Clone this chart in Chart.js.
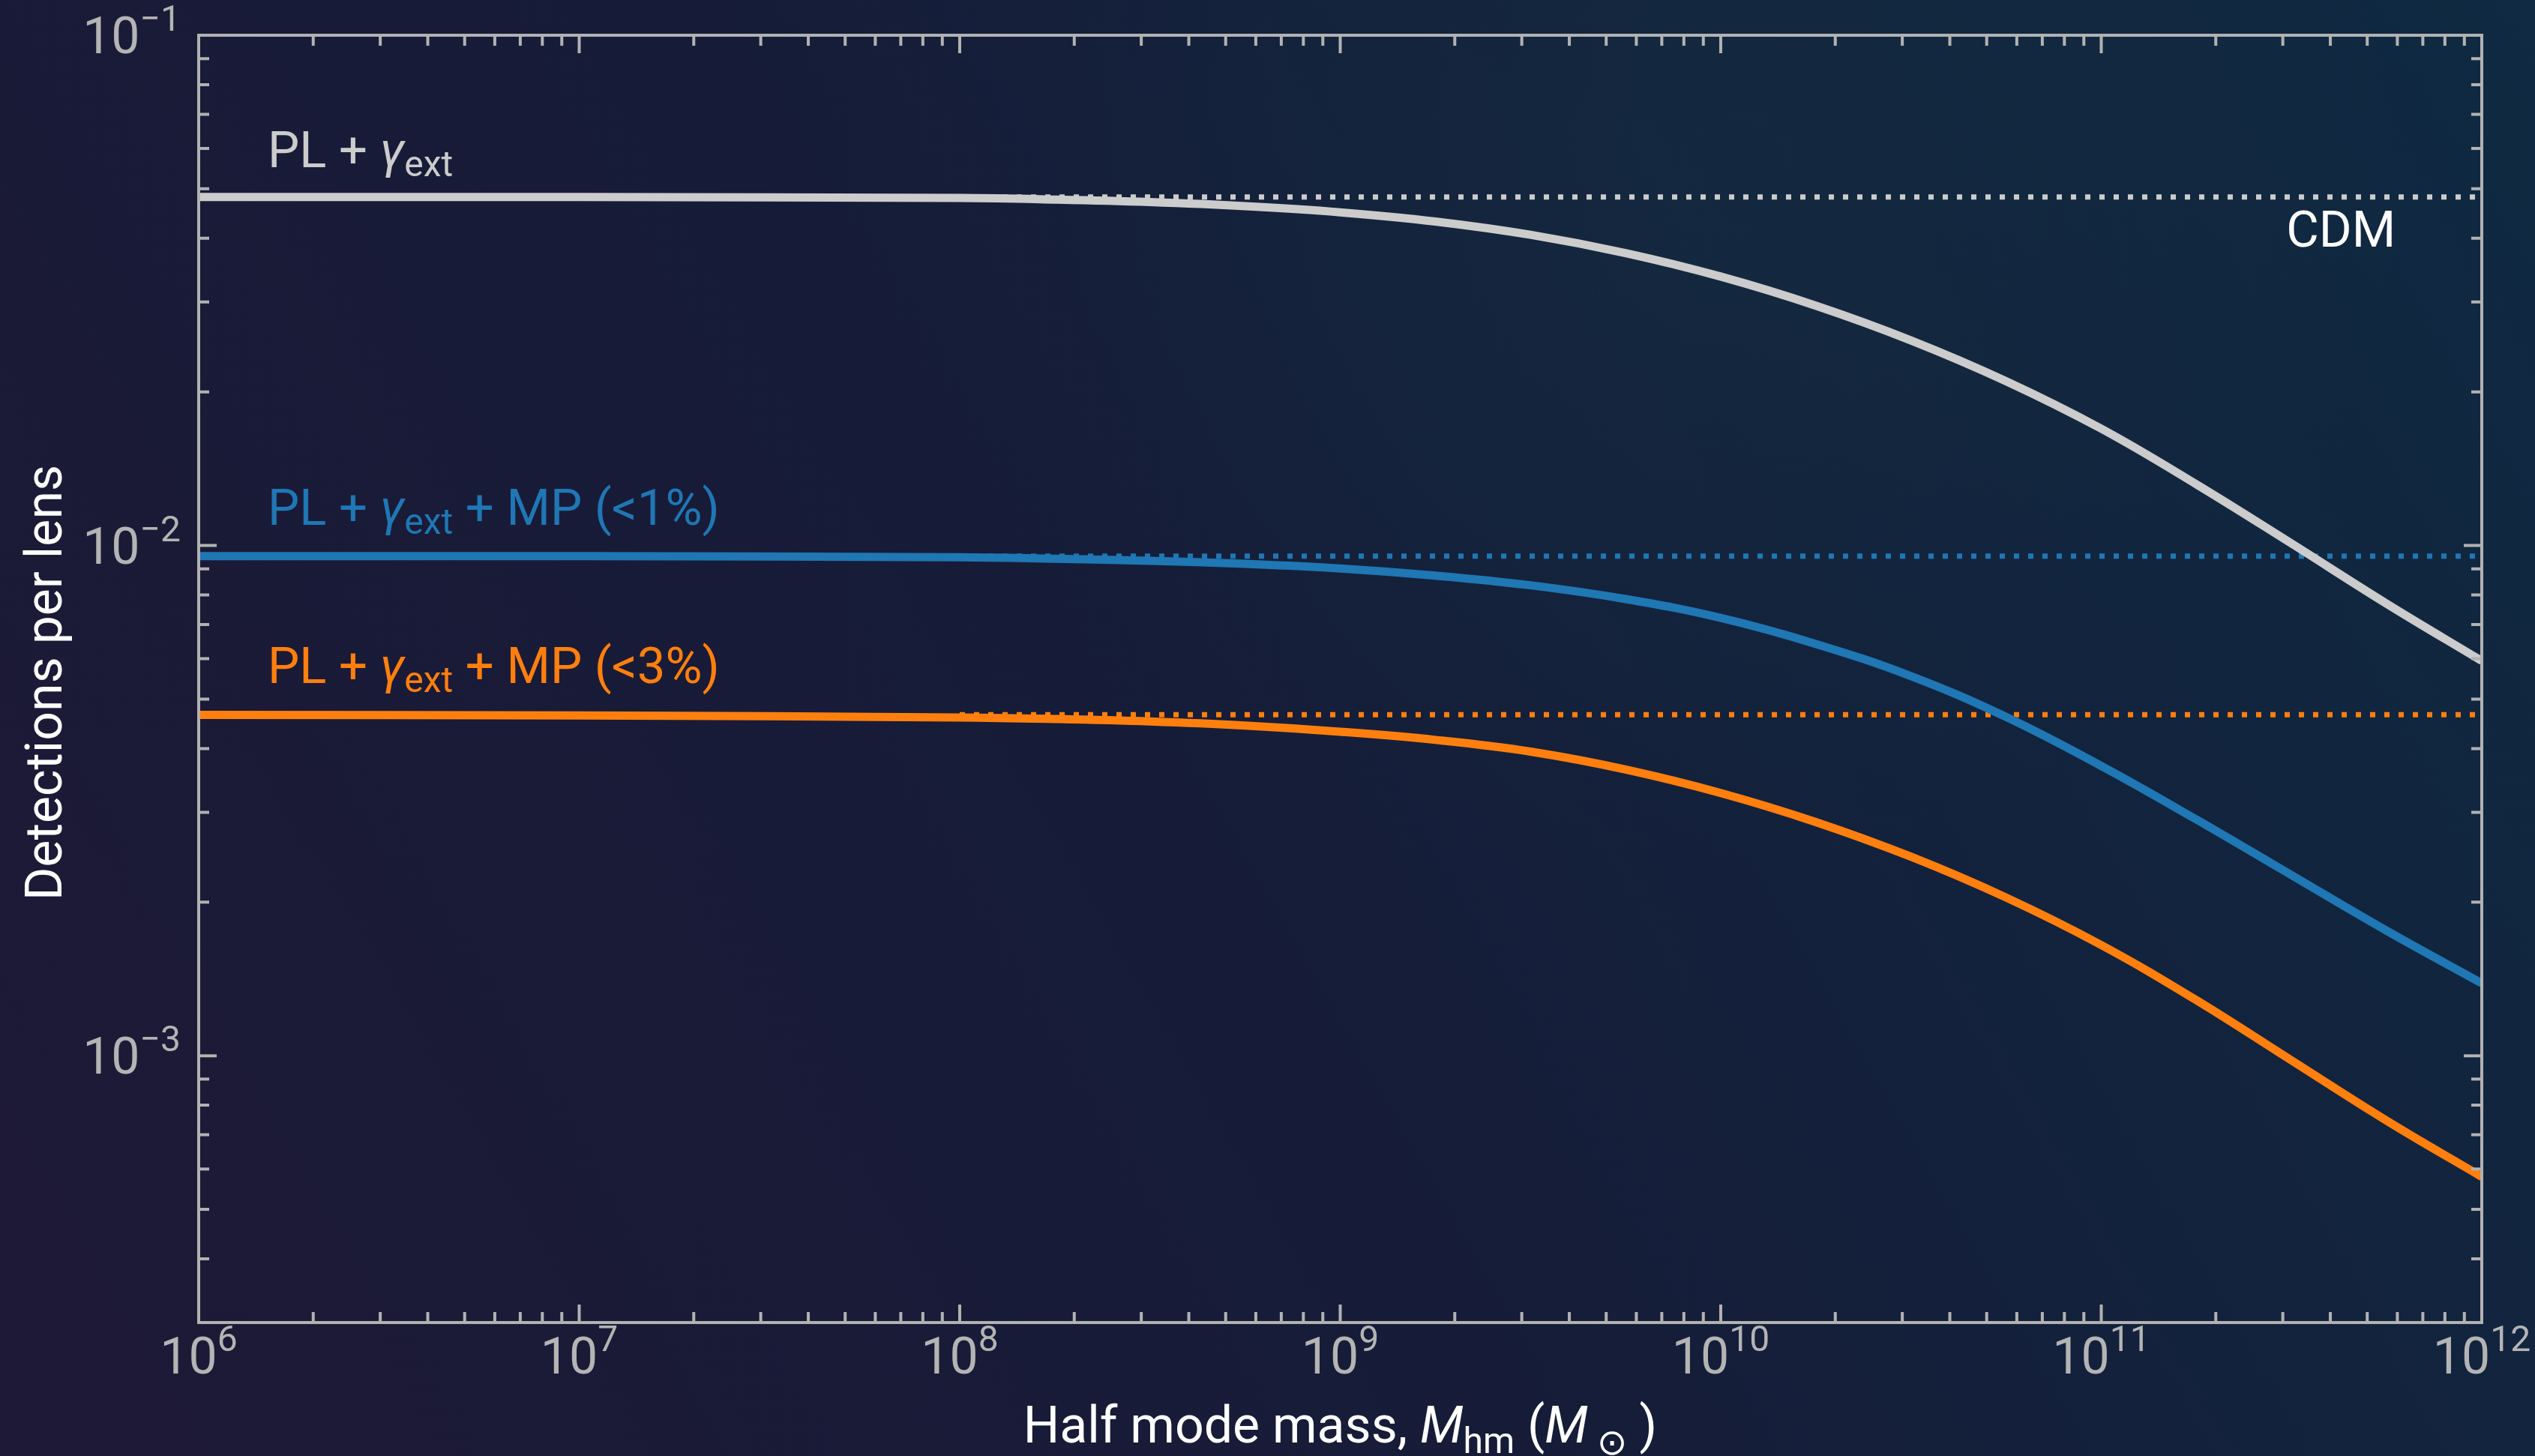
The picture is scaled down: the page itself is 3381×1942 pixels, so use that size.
<!DOCTYPE html>
<html><head><meta charset="utf-8">
<script src="https://cdn.jsdelivr.net/npm/chart.js@4.4.1/dist/chart.umd.min.js"></script>
<style>html,body{margin:0;padding:0;background:#151d38;overflow:hidden}canvas{display:block}</style>
</head><body>
<canvas id="c" width="3381" height="1942"></canvas>
<script>
// ---- data ----
const logMass = [6, 7, 8, 8.25, 8.5, 8.75, 9, 9.25, 9.5, 9.75, 10, 10.25, 10.5, 10.75, 11, 11.25, 11.5, 11.75, 12];
const mass = logMass.map(e => Math.pow(10, e));
const detPL  = [0.04819, 0.04819, 0.04797, 0.04764, 0.04710, 0.04624, 0.04498, 0.04315, 0.04064, 0.03741, 0.03365, 0.02951, 0.02523, 0.02099, 0.01694, 0.01318, 0.01009, 0.00769, 0.00594];
const detMP1 = [0.009528, 0.009528, 0.009484, 0.009419, 0.009333, 0.009204, 0.009016, 0.008730, 0.008356, 0.007852, 0.007211, 0.006412, 0.005546, 0.004613, 0.003698, 0.002904, 0.002259, 0.001758, 0.001387];
const detMP3 = [0.004656, 0.004645, 0.004603, 0.004571, 0.004519, 0.004436, 0.004315, 0.004159, 0.003945, 0.003639, 0.003273, 0.002871, 0.002455, 0.002042, 0.001648, 0.001285, 0.000979, 0.000746, 0.000579];
const cdmRange = [1e8, 1e12];
const cdmPL = 0.0482, cdmMP1 = 0.00953, cdmMP3 = 0.00466;
const xTickExps = [6, 7, 8, 9, 10, 11, 12];
const yTickExps = [-3, -2, -1];
const xMin = 1e6, xMax = 1e12, yMin = 3e-4, yMax = 0.1;

const C_WHITE = '#cccccc', C_BLUE = '#1f77b4', C_ORANGE = '#ff7f0e';
const AXIS = '#b2b2b2', TICKTXT = '#b4b4b4';
const FONT = 'Roboto, "Noto Sans", sans-serif';

function pts(xs, ys){ return xs.map((x,i)=>({x:x, y:ys[i]})); }

const solid = (data, color) => ({data, borderColor: color, borderWidth: 11, pointRadius: 0, fill: false,
  tension: 0.4, borderCapStyle: 'butt', showLine: true});
const dotted = (y, color) => ({data: pts(cdmRange, [y, y]), borderColor: color, borderWidth: 7, pointRadius: 0,
  fill: false, borderDash: [7, 12], borderCapStyle: 'butt', showLine: true});

function runWidth(ctx, runs){
  let w = 0;
  for (const r of runs){ ctx.font = (r.italic?'italic ':'') + r.size + 'px ' + FONT; w += ctx.measureText(r.t).width; }
  return w;
}
function drawRuns(ctx, runs, x, y, align, color){
  const w = runWidth(ctx, runs);
  let cx = align === 'center' ? x - w/2 : align === 'right' ? x - w : x;
  ctx.fillStyle = color; ctx.textBaseline = 'alphabetic'; ctx.textAlign = 'left';
  for (const r of runs){
    ctx.font = (r.italic?'italic ':'') + r.size + 'px ' + FONT;
    ctx.fillText(r.t, cx, y + (r.dy||0));
    cx += ctx.measureText(r.t).width;
  }
}
function powRuns(exp){
  return [{t:'10', size:68}, {t: exp < 0 ? '\u2212' + (-exp) : String(exp), size:48, dy:-30}];
}

const bgPlugin = {
  id: 'bg',
  beforeDraw(chart){
    const ctx = chart.ctx, W = chart.width, H = chart.height;
    ctx.save();
    const g = ctx.createLinearGradient(0, H, W, 0);
    g.addColorStop(0, '#1e1936');
    g.addColorStop(0.45, '#161c38');
    g.addColorStop(1, '#0f2a42');
    ctx.fillStyle = g; ctx.fillRect(0, 0, W, H);
    const r = ctx.createRadialGradient(2300, 250, 50, 2300, 250, 900);
    r.addColorStop(0, 'rgba(22,50,66,0.35)');
    r.addColorStop(1, 'rgba(22,50,66,0)');
    ctx.fillStyle = r; ctx.fillRect(0, 0, W, H);
    ctx.restore();
  }
};

const framePlugin = {
  id: 'frame',
  afterDatasetsDraw(chart){
    const ctx = chart.ctx, a = chart.chartArea, xs = chart.scales.x, ys = chart.scales.y;
    ctx.save();
    ctx.strokeStyle = AXIS; ctx.lineWidth = 4; ctx.lineCap = 'butt';
    ctx.strokeRect(a.left, a.top, a.right - a.left, a.bottom - a.top);
    for (let n = 6; n <= 12; n++){
      for (let k = 1; k <= 9; k++){
        const v = k * Math.pow(10, n);
        if (v < xMin*0.999 || v > xMax*1.001) continue;
        const p = xs.getPixelForValue(v), L = k === 1 ? 24 : 14;
        ctx.beginPath();
        ctx.moveTo(p, a.bottom); ctx.lineTo(p, a.bottom - L);
        ctx.moveTo(p, a.top); ctx.lineTo(p, a.top + L);
        ctx.stroke();
      }
    }
    for (let n = -4; n <= -1; n++){
      for (let k = 1; k <= 9; k++){
        const v = k * Math.pow(10, n);
        if (v < yMin*0.999 || v > yMax*1.001) continue;
        const p = ys.getPixelForValue(v), L = k === 1 ? 24 : 14;
        ctx.beginPath();
        ctx.moveTo(a.left, p); ctx.lineTo(a.left + L, p);
        ctx.moveTo(a.right, p); ctx.lineTo(a.right - L, p);
        ctx.stroke();
      }
    }
    for (const e of xTickExps){
      const p = xs.getPixelForValue(Math.pow(10, e));
      drawRuns(ctx, powRuns(e), p, a.bottom + 68, 'center', TICKTXT);
    }
    for (const e of yTickExps){
      const p = ys.getPixelForValue(Math.pow(10, e));
      drawRuns(ctx, powRuns(e), a.left - 24, p + 24, 'right', TICKTXT);
    }
    drawRuns(ctx, [{t:'Half mode mass, ', size:68}, {t:'M', size:68, italic:true}, {t:'hm', size:48, dy:14},
      {t:' (', size:68}, {t:'M', size:68, italic:true}, {t:' \u2299', size:48, dy:16}, {t:' )', size:68}],
      (a.left + a.right)/2, 1924, 'center', '#ffffff');
    ctx.save();
    ctx.translate(82, (a.top + a.bottom)/2 + 5);
    ctx.rotate(-Math.PI/2);
    drawRuns(ctx, [{t:'Detections per lens', size:68}], 0, 0, 'center', '#ffffff');
    ctx.restore();
    const lx = a.left + 92;
    const gam = () => [{t:'PL + ', size:67}, {t:'\u03B3', size:67, italic:true}, {t:'ext', size:48, dy:12}];
    drawRuns(ctx, gam(), lx, ys.getPixelForValue(cdmPL) - 40, 'left', C_WHITE);
    drawRuns(ctx, gam().concat([{t:' + MP (<1%)', size:67}]), lx, ys.getPixelForValue(cdmMP1) - 42, 'left', C_BLUE);
    drawRuns(ctx, gam().concat([{t:' + MP (<3%)', size:67}]), lx, ys.getPixelForValue(cdmMP3) - 42, 'left', C_ORANGE);
    drawRuns(ctx, [{t:'CDM', size:67}], xs.getPixelForValue(Math.pow(10, 11.63)), ys.getPixelForValue(cdmPL) + 66, 'center', '#ffffff');
    ctx.restore();
  }
};

new Chart(document.getElementById('c'), {
  type: 'scatter',
  data: {
    datasets: [
      solid(pts(mass, detPL), C_WHITE),
      solid(pts(mass, detMP1), C_BLUE),
      solid(pts(mass, detMP3), C_ORANGE),
      dotted(cdmPL, C_WHITE),
      dotted(cdmMP1, C_BLUE),
      dotted(cdmMP3, C_ORANGE)
    ]
  },
  options: {
    responsive: false, animation: false, devicePixelRatio: 1,
    layout: {padding: {left: 265, right: 71, top: 47, bottom: 178}},
    plugins: {legend: {display: false}, tooltip: {enabled: false}},
    scales: {
      x: {type: 'logarithmic', min: xMin, max: xMax, display: false},
      y: {type: 'logarithmic', min: yMin, max: yMax, display: false}
    }
  },
  plugins: [bgPlugin, framePlugin]
});
</script>
</body></html>
